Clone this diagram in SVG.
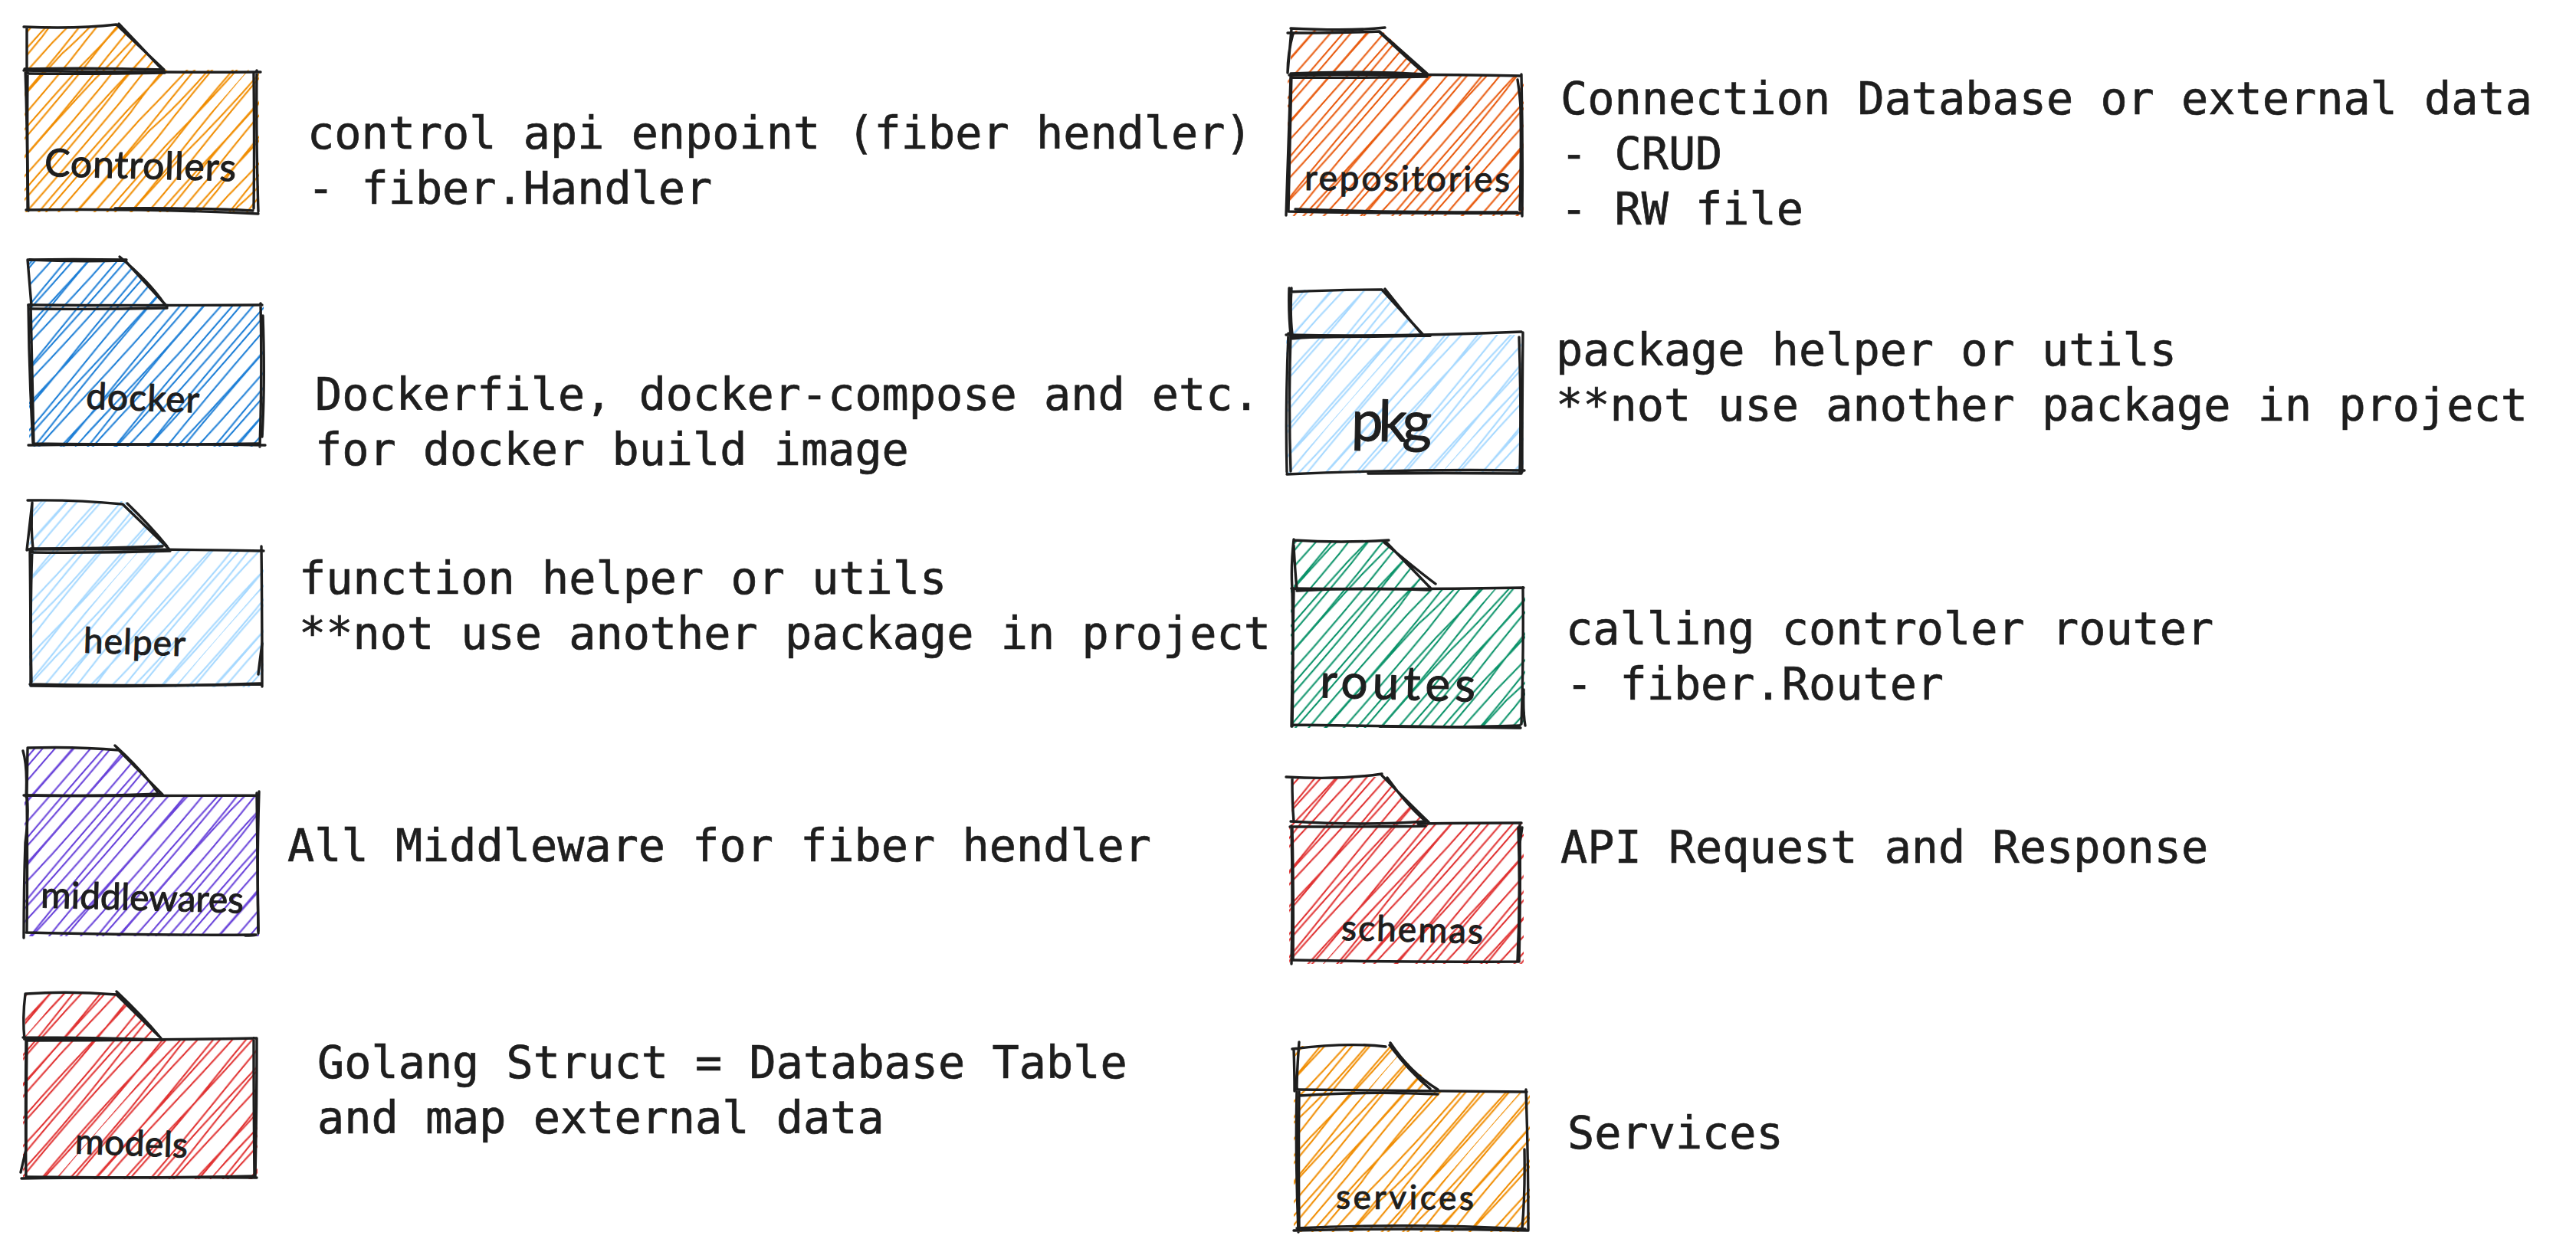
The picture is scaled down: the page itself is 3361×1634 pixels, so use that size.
<svg xmlns="http://www.w3.org/2000/svg" xmlns:xlink="http://www.w3.org/1999/xlink" width="3361" height="1634" viewBox="0 0 3361 1634">
<style>
.o{fill:none;stroke:#1e1e1e;stroke-width:3.4;stroke-linecap:round;stroke-linejoin:round}
.d{font-family:"DejaVu Sans Mono","Liberation Mono",monospace;font-size:58.5px;fill:#1e1e1e;stroke:#1e1e1e;stroke-width:.7}
.h{font-family:Lato,"Open Sans",sans-serif;fill:#1e1e1e;stroke:#1e1e1e;stroke-width:1;stroke-linejoin:round;text-anchor:start}
</style>
<defs>
<g id="tile" fill="none" stroke-width="2.1" stroke-linecap="round">
<path d="M4 0Q10 150 3 300T4 600"/><path d="M9 0Q3 180 11 320T9 600"/>
<path d="M22 0Q26 140 20 280T22 600"/>
<path d="M36 0Q33 170 38 300T36 600"/><path d="M40 0Q46 120 41 340T40 600"/>
<path d="M54 0Q58 200 52 330T54 600"/>
<path d="M68 0Q65 150 71 290T68 600"/><path d="M73 0Q78 190 71 350T73 600"/>
<path d="M88 0Q85 160 91 310T88 600"/>
<path d="M103 0Q107 130 101 280T103 600"/><path d="M107 0Q102 200 110 360T107 600"/>
<path d="M121 0Q125 170 119 320T121 600"/>
<path d="M136 0Q133 140 139 300T136 600"/><path d="M141 0Q146 200 140 340T141 600"/>
</g>
<pattern id="po" patternUnits="userSpaceOnUse" width="152" height="600" patternTransform="rotate(41)" stroke="#f08c00"><use href="#tile"/></pattern>
<pattern id="pb" patternUnits="userSpaceOnUse" width="152" height="600" patternTransform="rotate(41)" stroke="#1c7ed6"><use href="#tile"/></pattern>
<pattern id="pl" patternUnits="userSpaceOnUse" width="152" height="600" patternTransform="rotate(41)" stroke="#a5d8ff"><use href="#tile"/></pattern>
<pattern id="pv" patternUnits="userSpaceOnUse" width="152" height="600" patternTransform="rotate(41)" stroke="#6741d9"><use href="#tile"/></pattern>
<pattern id="pr" patternUnits="userSpaceOnUse" width="152" height="600" patternTransform="rotate(41)" stroke="#e03131"><use href="#tile"/></pattern>
<pattern id="pe" patternUnits="userSpaceOnUse" width="152" height="600" patternTransform="rotate(41)" stroke="#e8590c"><use href="#tile"/></pattern>
<pattern id="pg" patternUnits="userSpaceOnUse" width="152" height="600" patternTransform="rotate(41)" stroke="#099268"><use href="#tile"/></pattern>
</defs>
<rect width="3361" height="1634" fill="#ffffff"/>

<g id="controllers">
<path fill="url(#po)" d="M34 34H154L216 91H338V277H32V91H34Z"/>
<path class="o" d="M31 92Q180 95 340 94M33 90Q36 180 36 274M335 92Q334 180 337 276M34 274Q200 272 337 279"/>
<path class="o" d="M34 96Q120 97 215 95M36 95Q35 190 37 275M331 96Q332 200 331 272M150 272Q260 271 330 275"/>
<path class="o" d="M35 93L35 36M31 35Q100 38 152 32L214 91M155 31Q190 68 212 91M32 90Q120 88 214 91"/>
<text class="h" font-size="50" x="58" y="233" textLength="250" transform="rotate(1.5 180 225)">Controllers</text>
<text class="d" x="401" y="194">control api enpoint (fiber hendler)</text>
<text class="d" x="401" y="266">- fiber.Handler</text>
</g>

<g id="docker">
<path fill="url(#pb)" d="M38 338H162L220 398H344V583H38V398H38Z"/>
<path class="o" d="M37 398Q200 399 342 398M40 397Q42 490 44 580M340 396Q342 490 339 583M37 581Q200 579 346 581"/>
<path class="o" d="M40 403Q130 404 218 402M37 398Q38 490 43 578M343 412Q346 500 342 570M44 579Q200 581 338 579"/>
<path class="o" d="M41 399L36 339M37 339Q100 342 163 340L218 400M156 335Q195 368 214 396M38 339Q90 338 165 339"/>
<text class="h" font-size="48" x="112" y="536" textLength="148" transform="rotate(2 186 525)">docker</text>
<text class="d" x="411" y="535">Dockerfile, docker-compose and etc.</text>
<text class="d" x="411" y="607">for docker build image</text>
</g>

<g id="helper">
<path fill="url(#pl)" d="M40 654H163L222 717H344V897H38V717H38Z"/>
<path class="o" d="M36 717Q180 716 344 719M39 718Q40 800 40 894M341 713Q342 800 342 896M39 893Q200 896 342 893"/>
<path class="o" d="M40 721Q130 722 222 719M42 716Q39 800 41 890M337 880Q338 870 342 840M40 895Q200 897 340 892"/>
<path class="o" d="M42 656L35 718M42 656Q40 690 43 716M36 653Q100 652 160 658L220 716M166 657Q195 685 218 713M40 716Q130 716 212 713"/>
<text class="h" font-size="46" x="109" y="854" textLength="133" transform="rotate(2 175 840)">helper</text>
<text class="d" x="390" y="775">function helper or utils</text>
<text class="d" x="390" y="847">**not use another package in project</text>
</g>

<g id="middlewares">
<path fill="url(#pv)" d="M34 977H152L214 1038H338V1222H32V1038H34Z"/>
<path class="o" d="M31 1038Q180 1039 336 1038M35 1037Q36 1130 35 1217M335 1035Q336 1130 337 1218M34 1217Q200 1221 332 1220"/>
<path class="o" d="M35 1040Q38 1060 33 1100Q31 1160 31 1224M338 1033Q335 1130 337 1215M320 1221Q330 1221 334 1220"/>
<path class="o" d="M36 977L35 1037M30 980Q36 1000 34 1040M36 976Q100 974 155 979L212 1037M150 973Q185 1005 205 1033M34 1038Q120 1040 210 1036"/>
<text class="h" font-size="48" x="53" y="1188" textLength="265" transform="rotate(1.5 185 1175)">middlewares</text>
<text class="d" x="375" y="1124">All Middleware for fiber hendler</text>
</g>

<g id="models">
<path fill="url(#pr)" d="M33 1296H154L212 1356H336V1539H30V1356H33Z"/>
<path class="o" d="M32 1356Q180 1358 334 1355M34 1356Q33 1450 34 1538M331 1355Q331 1450 332 1536M28 1538Q200 1536 335 1537"/>
<path class="o" d="M34 1358Q120 1358 205 1357M35 1360Q34 1430 34 1500L27 1530M335 1355Q335 1450 333 1535M34 1536Q200 1538 330 1535"/>
<path class="o" d="M33 1297Q29 1330 32 1356M34 1297Q90 1293 152 1298L207 1352M152 1294Q185 1325 210 1355M30 1354Q120 1354 214 1357"/>
<text class="h" font-size="46" x="98" y="1508" textLength="147" transform="rotate(2 170 1495)">models</text>
<text class="d" x="414" y="1407">Golang Struct = Database Table</text>
<text class="d" x="414" y="1479">and map external data</text>
</g>

<g id="repositories">
<path fill="url(#pe)" d="M1684 40H1803L1864 98H1988V282H1680V98H1684Z"/>
<path class="o" d="M1682 98Q1850 96 1985 99M1685 97Q1683 190 1681 276M1985 97Q1987 190 1986 282M1682 276Q1830 279 1985 278"/>
<path class="o" d="M1684 101Q1770 102 1862 100M1678 281Q1681 200 1684 100M1980 104Q1984 130 1984 145Q1985 200 1983 274M1690 273Q1800 277 1980 277"/>
<path class="o" d="M1685 38L1680 95Q1680 70 1687 44M1684 37Q1760 41 1807 36M1680 43Q1750 43 1800 41L1862 96M1800 42Q1840 80 1859 96M1684 96Q1770 92 1860 97"/>
<text class="h" font-size="46" x="1702" y="249" textLength="268" transform="rotate(0.5 1830 240)">repositories</text>
<text class="d" x="2036" y="149">Connection Database or external data</text>
<text class="d" x="2036" y="221">- CRUD</text>
<text class="d" x="2036" y="293">- RW file</text>
</g>

<g id="pkg">
<path fill="url(#pl)" d="M1682 378H1805L1858 437H1988V618H1678V437H1682Z"/>
<path class="o" d="M1678 437Q1820 440 1985 433M1681 435Q1677 530 1679 616M1987 434Q1986 530 1986 616M1679 619Q1830 612 1989 614"/>
<path class="o" d="M1684 442Q1720 438 1866 438M1684 437Q1681 530 1684 615M1982 440Q1985 530 1983 618M1785 618Q1880 617 1985 618"/>
<path class="o" d="M1682 376Q1681 410 1684 437M1685 376Q1683 410 1686 436M1682 381Q1750 378 1803 378L1856 436M1807 377Q1845 425 1857 438M1686 440Q1770 440 1866 438"/>
<text class="h" font-size="74" x="1763" y="576" textLength="105" transform="rotate(1 1815 560)">pkg</text>
<text class="d" x="2030" y="477">package helper or utils</text>
<text class="d" x="2030" y="549">**not use another package in project</text>
</g>

<g id="routes">
<path fill="url(#pg)" d="M1688 707H1808L1868 768H1990V950H1684V768H1688Z"/>
<path class="o" d="M1685 768Q1840 770 1988 767M1686 768Q1688 860 1686 948M1987 767Q1988 860 1985 945M1686 946Q1830 948 1984 950"/>
<path class="o" d="M1692 771Q1780 766 1866 770M1685 948L1688 770M1988 900Q1987 930 1990 947M1800 948Q1900 950 1983 947"/>
<path class="o" d="M1688 704Q1684 740 1686 768M1688 712Q1690 750 1692 768M1688 705Q1750 709 1812 705M1808 707Q1840 740 1866 767M1806 708Q1850 745 1873 762"/>
<text class="h" font-size="62" x="1722" y="913" textLength="203" transform="rotate(1.5 1825 900)">routes</text>
<text class="d" x="2043" y="841">calling controler router</text>
<text class="d" x="2043" y="913">- fiber.Router</text>
</g>

<g id="schemas">
<path fill="url(#pr)" d="M1685 1014H1806L1866 1074H1988V1258H1682V1074H1685Z"/>
<path class="o" d="M1683 1079Q1830 1079 1860 1078M1850 1075Q1920 1074 1985 1074M1685 1078Q1687 1170 1685 1258M1983 1075Q1984 1170 1982 1255M1688 1253Q1830 1256 1982 1255"/>
<path class="o" d="M1686 1080Q1688 1170 1687 1253M1981 1080Q1984 1170 1980 1253M1986 1080L1983 1100M1684 1072Q1780 1078 1860 1072"/>
<path class="o" d="M1686 1016Q1686 1050 1688 1072M1678 1014Q1750 1018 1803 1010M1803 1012Q1840 1050 1864 1073M1810 1015Q1835 1050 1858 1070"/>
<text class="h" font-size="46" x="1750" y="1229" textLength="185" transform="rotate(1.5 1840 1220)">schemas</text>
<text class="d" x="2036" y="1126">API Request and Response</text>
</g>

<g id="services">
<path fill="url(#po)" d="M1690 1365H1813L1877 1424H1996V1608H1688V1424H1690Z"/>
<path class="o" d="M1690 1422Q1850 1424 1992 1425M1692 1420Q1690 1510 1694 1608M1991 1422Q1994 1510 1994 1605M1688 1606Q1840 1602 1994 1606"/>
<path class="o" d="M1695 1425Q1694 1510 1695 1602M1989 1500Q1990 1560 1986 1603M1695 1430Q1780 1424 1876 1428M1692 1603Q1840 1596 1990 1604"/>
<path class="o" d="M1688 1369Q1689 1400 1689 1424M1695 1360Q1692 1400 1692 1422M1686 1369Q1760 1360 1808 1366M1814 1361Q1840 1400 1876 1422M1813 1364Q1840 1400 1866 1421"/>
<text class="h" font-size="44" x="1743" y="1578" textLength="180" transform="rotate(0.5 1830 1570)">services</text>
<text class="d" x="2045" y="1499">Services</text>
</g>
</svg>
